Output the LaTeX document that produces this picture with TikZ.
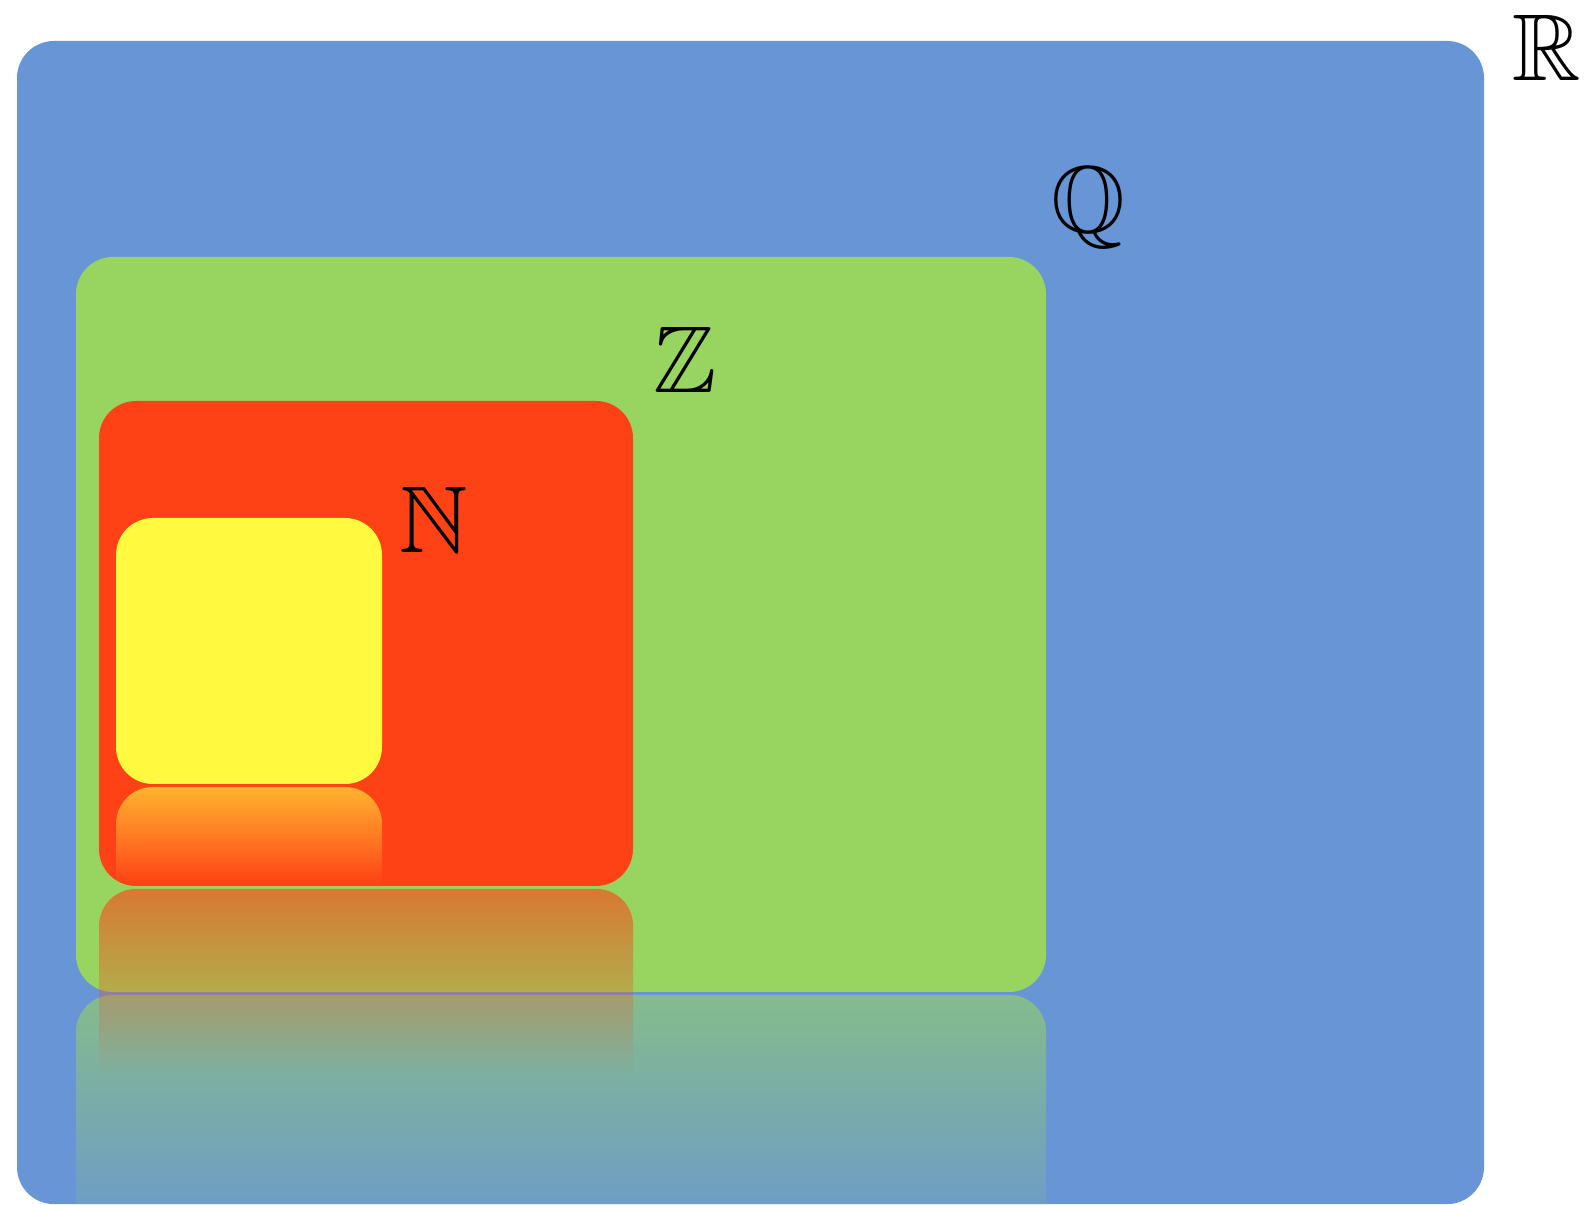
\documentclass[tikz,border=0pt]{standalone}
\usepackage{amssymb}
\usetikzlibrary{fadings}
\definecolor{realsblue}{RGB}{104,149,214}
\definecolor{intgreen}{RGB}{152,212,96}
\definecolor{natred}{RGB}{255,66,22}
\definecolor{natyellow}{RGB}{255,250,64}
\tikzfading[name=mirror, top color=transparent!38, bottom color=transparent!100]
\tikzset{
  setbox/.style={rounded corners=0.37cm},
  mirrorbox/.style={path fading=mirror},
  setname/.style={font=\fontsize{27}{32}\selectfont, inner sep=0pt}
}
\begin{document}
\begin{tikzpicture}
        \useasboundingbox (0,0) rectangle (15.91,12.04);
        \clip (0,0) rectangle (15.91,12.04);

        % Reals
        \fill[realsblue, setbox] (0.17,-0.001) rectangle (14.84,11.63);
        \node[setname] (R) at (15.47,11.56) {$\mathbb{R}$};

        % Rationals / Integers
        \node[setname] (Q) at (10.88,9.96) {$\mathbb{Q}$};
        \fill[intgreen, setbox] (0.76,2.12) rectangle (10.46,9.47);
        \fill[intgreen, mirrorbox] (0.76,-0.61) [rounded corners=0.37cm] -- (0.76,2.09)
            -- (10.46,2.09) [sharp corners] -- (10.46,-0.61) -- cycle;
        \node[setname] (Z) at (6.85,8.44) {$\mathbb{Z}$};

        % Naturals
        \fill[natred, setbox] (0.99,3.18) rectangle (6.33,8.03);
        \fill[natred, mirrorbox] (0.99,1.30) [rounded corners=0.37cm] -- (0.99,3.15)
            -- (6.33,3.15) [sharp corners] -- (6.33,1.30) -- cycle;
        \node[setname] (N) at (4.34,6.84) {$\mathbb{N}$};

        % inner box
        \fill[natyellow, setbox] (1.16,4.20) rectangle (3.82,6.86);
        \fill[natyellow, mirrorbox] (1.16,3.20) [rounded corners=0.37cm] -- (1.16,4.17)
            -- (3.82,4.17) [sharp corners] -- (3.82,3.20) -- cycle;
\end{tikzpicture}
\end{document}
